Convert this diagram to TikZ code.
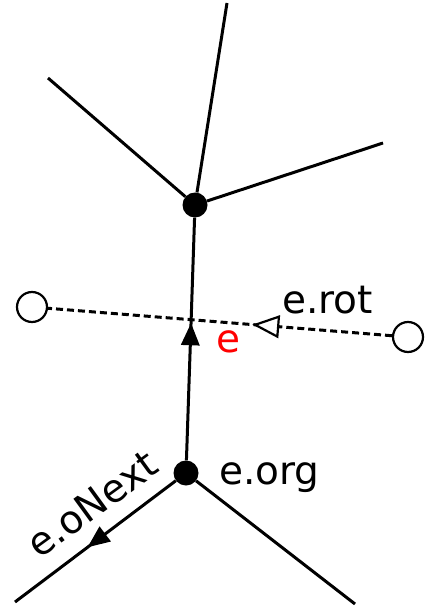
\documentclass[tikz,border=0pt]{standalone}
\usepackage{fontspec}
\setmainfont{DejaVu Sans}
\usetikzlibrary{shapes.geometric}

\tikzset{
  vertex/.style={circle,fill=black,inner sep=0pt,minimum size=25pt},
  face/.style={circle,draw=black,line width=2.2pt,fill=white,inner sep=0pt,minimum size=30pt},
  qedge/.style={line width=3pt},
  dualedge/.style={line width=3pt,dash pattern=on 7pt off 4pt},
  tipfill/.style={isosceles triangle,isosceles triangle stretches,fill=black,
      inner sep=0pt,minimum width=19pt,minimum height=22pt,sloped,allow upside down},
  tipopen/.style={isosceles triangle,isosceles triangle stretches,draw=black,fill=white,solid,
      line width=2.2pt,inner sep=0pt,minimum width=20pt,minimum height=23pt,sloped,allow upside down},
  lbl/.style={font=\fontsize{39}{42}\selectfont,inner sep=0pt}
}

\begin{document}
\begin{tikzpicture}[x=1pt,y=-1pt]
    \useasboundingbox (0,0) rectangle (425,607);

    % primal vertices and free ends
    \node[vertex] (topv) at (195,205) {};
    \node[vertex] (botv) at (186,473) {};
    \coordinate (tup) at (227,3);
    \coordinate (tleft) at (48,78);
    \coordinate (tright) at (383,143);
    \coordinate (bleft) at (15,602);
    \coordinate (bright) at (355,604);

    % dual vertices
    \node[face] (lface) at (32,307) {};
    \node[face] (rface) at (408,337) {};

    \draw[qedge] (topv) -- (tup);
    \draw[qedge] (topv) -- (tleft);
    \draw[qedge] (topv) -- (tright);
    \draw[qedge] (botv) -- (bright);
    \draw[qedge] (botv) -- node[tipfill,pos=0.47] (nexttip) {} (bleft);
    \draw[qedge] (botv) -- node[tipfill,pos=0.5] (etip) {} (topv);
    \draw[dualedge] (rface) -- node[tipopen,pos=0.35] (rottip) {} (lface);

    % labels
    \node[lbl,text=red,anchor=base west] (le) at (216,352) {e};
    \node[lbl,anchor=base west] (lrot) at (282,313) {e.rot};
    \node[lbl,anchor=base west] (lorg) at (219,484) {e.org};
    \node[lbl,rotate=36] (lnext) at (92,504) {e.oNext};
\end{tikzpicture}
\end{document}
